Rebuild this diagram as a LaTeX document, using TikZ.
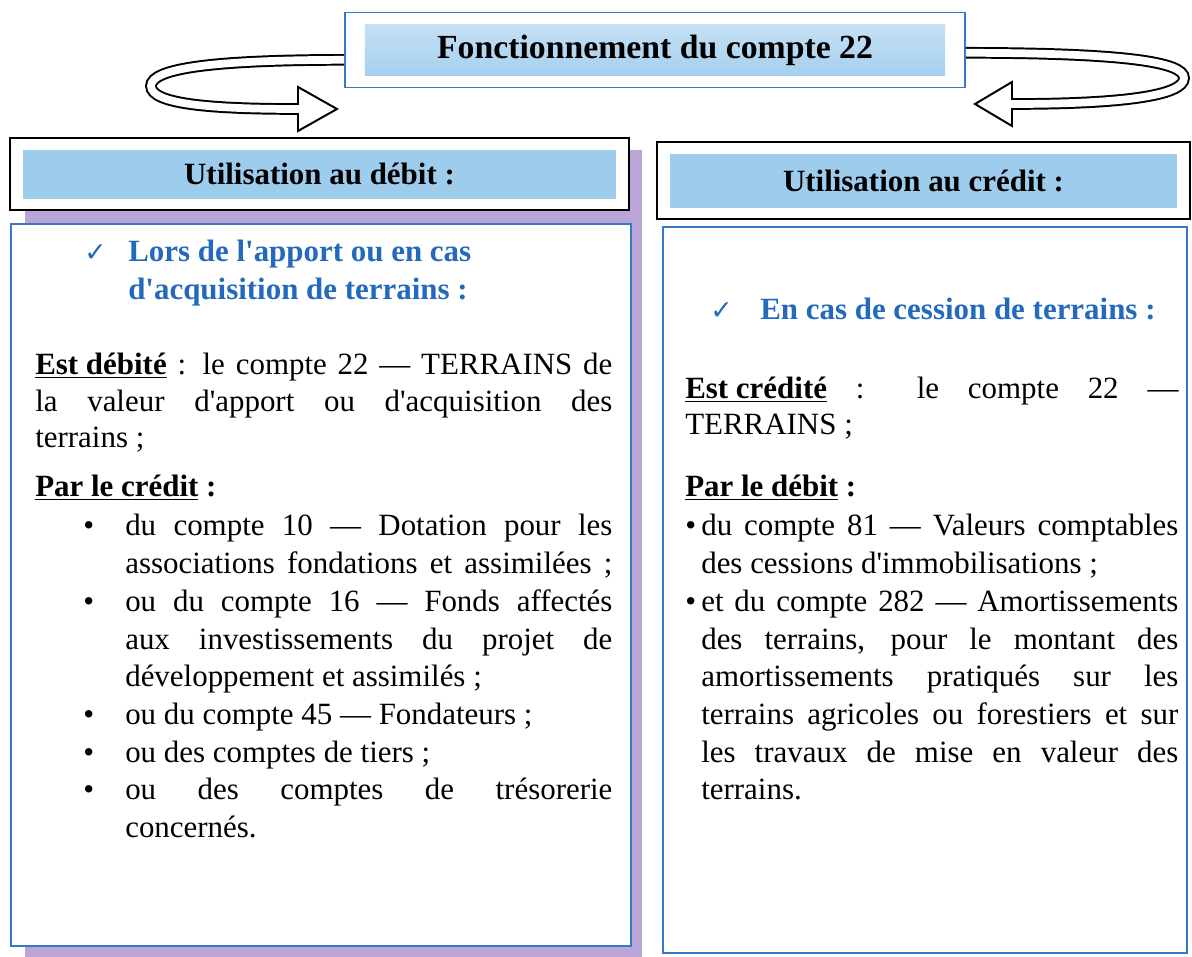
\documentclass[tikz,border=0pt]{standalone}
\usepackage{fontspec}
\setmainfont{Liberation Serif}[Ligatures=TeXOff]
\newfontfamily\symfont{DejaVu Sans}
\usetikzlibrary{positioning}

\definecolor{headblue}{RGB}{35,105,190}
\definecolor{bandblue}{RGB}{158,204,236}
\definecolor{bandtop}{RGB}{205,228,246}
\definecolor{framblue}{RGB}{52,122,200}
\definecolor{shadowpurple}{RGB}{186,166,214}

\newcommand{\titlefont}{\fontsize{24}{28}\selectfont\bfseries}
\newcommand{\hdrfont}{\fontsize{22}{26}\selectfont\bfseries}
\newcommand{\bodyfont}{\fontsize{22}{26.8}\selectfont}

% widths of the justified lines
\newlength\wA \setlength\wA{14.425cm}
\newlength\wB \setlength\wB{12.175cm}
\newlength\wBul \setlength\wBul{1.05cm}
\newlength\wC \setlength\wC{12.325cm}
\newlength\wD \setlength\wD{11.925cm}
\newlength\wDul \setlength\wDul{0.4cm}

\begin{document}
\begin{tikzpicture}[
    x=0.025cm, y=-0.025cm,
    title/.style={
        draw=framblue,
        line width=1.2pt,
        fill=white,
        minimum width=15.5cm,
        minimum height=1.875cm,
        font=\titlefont,
        path picture={\shade[top color=bandtop, bottom color=bandblue]
            ([shift={(20,12)}]path picture bounding box.north west) rectangle
            ([shift={(-20,-12)}]path picture bounding box.south east);}
    },
    hdr/.style={
        draw=black,
        line width=1.5pt,
        fill=white,
        font=\hdrfont,
        path picture={\fill[bandblue]
            ([shift={(13,12)}]path picture bounding box.north west) rectangle
            ([shift={(-13,-11)}]path picture bounding box.south east);}
    },
    cbox/.style={
        draw=framblue,
        line width=1.6pt,
        fill=white,
        anchor=north west,
        inner sep=0pt
    },
    txt/.style={anchor=base west, inner sep=0pt, font=\bodyfont},
    subhead/.style={txt, font=\bodyfont\bfseries, text=headblue},
    chk/.style={anchor=base west, inner sep=0pt, text=headblue,
        font=\symfont\fontsize{19}{19}\selectfont},
    loop/.style={line width=1.4pt, double=white, double distance=5.5pt},
    tip/.style={fill=white, line width=1.4pt, line join=miter}
]
\useasboundingbox (0,0) rectangle (1192,957);

% shadow of the left column
\fill[shadowpurple] (25,150) rectangle (642,957);

% column headers and boxes
\node[hdr, minimum width=15.475cm, minimum height=1.8cm] (hdeb) at (319.5,174) {Utilisation au débit :};
\node[hdr, minimum width=13.325cm, minimum height=1.925cm] (hcred) at (923.5,180.5) {Utilisation au crédit :};
\node[cbox, minimum width=15.5cm, minimum height=18.05cm] (bdeb) at (10,223) {};
\node[cbox, minimum width=13.1cm, minimum height=18.15cm] (bcred) at (662,226) {};

% title
\node[title] (titre) at (655,50) {Fonctionnement du compte 22};

% curved arrows
\coordinate (baseL) at (298,109);
\coordinate (tipL) at (337,109);
\draw[loop] ([yshift=-7pt]titre.west) .. controls (215,60) and (151,68) .. (151,86)
    .. controls (151,104) and (210,109) .. (baseL);
\draw[tip] (298,87) -- (tipL) -- (298,131) -- cycle;
\draw[white, line width=5.5pt] (292,109) -- (301,109);

\coordinate (baseR) at (1012,104);
\coordinate (tipR) at (975,104);
\draw[loop] ([yshift=-2pt]titre.east) .. controls (1125,53) and (1184,62) .. (1184,78)
    .. controls (1184,96) and (1120,104) .. (baseR);
\draw[tip] (1012,82) -- (tipR) -- (1012,126) -- cycle;
\draw[white, line width=5.5pt] (1009,104) -- (1018,104);

% left column
\node[chk] (chkdeb) at (84,262) {✓};
\node[subhead] (lors) at (128,262) {\vtop{\baselineskip=27pt
    \hbox{Lors de l'apport ou en cas}\hbox{d'acquisition de terrains :}}};
\node[txt, font=\fontsize{22}{25.9}\selectfont] (estdeb) at (35,375) {\vtop{
    \hbox to\wA{\underline{\textbf{Est débité}} : le compte 22 — TERRAINS de}
    \hbox to\wA{la valeur d'apport ou d'acquisition des}
    \hbox{terrains ;}}};
\node[txt] (parcred) at (35,497) {\underline{\textbf{Par le crédit}}\textbf{ :}};
\node[txt] (listdeb) at (83,536) {\vtop{
    \hbox{\hbox to\wBul{\textbullet\hss}\hbox to\wB{du compte 10 — Dotation pour les}}
    \hbox{\hskip\wBul\relax\hbox to\wB{associations fondations et assimilées ;}}
    \hbox{\hbox to\wBul{\textbullet\hss}\hbox to\wB{ou du compte 16 — Fonds affectés}}
    \hbox{\hskip\wBul\relax\hbox to\wB{aux investissements du projet de}}
    \hbox{\hskip\wBul\relax développement et assimilés ;}
    \hbox{\hbox to\wBul{\textbullet\hss}ou du compte 45 — Fondateurs ;}
    \hbox{\hbox to\wBul{\textbullet\hss}ou des comptes de tiers ;}
    \hbox{\hbox to\wBul{\textbullet\hss}\hbox to\wB{ou des comptes de trésorerie}}
    \hbox{\hskip\wBul\relax concernés.}}};

% right column
\node[chk] (chkcred) at (710,320) {✓};
\node[subhead] (cession) at (760,320) {En cas de cession de terrains :};
\node[txt, font=\fontsize{22}{25}\selectfont] (estcred) at (685,399) {\vtop{
    \hbox to\wC{\underline{\textbf{Est crédité}} : le compte 22 —}
    \hbox{TERRAINS ;}}};
\node[txt] (pardeb) at (685,497) {\underline{\textbf{Par le débit}}\textbf{ :}};
\node[txt] (listcred) at (685,536) {\vtop{
    \hbox{\hbox to\wDul{\textbullet\hss}\hbox to\wD{du compte 81 — Valeurs comptables}}
    \hbox{\hskip\wDul\relax des cessions d'immobilisations ;}
    \hbox{\hbox to\wDul{\textbullet\hss}\hbox to\wD{et du compte 282 — Amortissements}}
    \hbox{\hskip\wDul\relax\hbox to\wD{des terrains, pour le montant des}}
    \hbox{\hskip\wDul\relax\hbox to\wD{amortissements pratiqués sur les}}
    \hbox{\hskip\wDul\relax\hbox to\wD{terrains agricoles ou forestiers et sur}}
    \hbox{\hskip\wDul\relax\hbox to\wD{les travaux de mise en valeur des}}
    \hbox{\hskip\wDul\relax terrains.}}};

\end{tikzpicture}
\end{document}
